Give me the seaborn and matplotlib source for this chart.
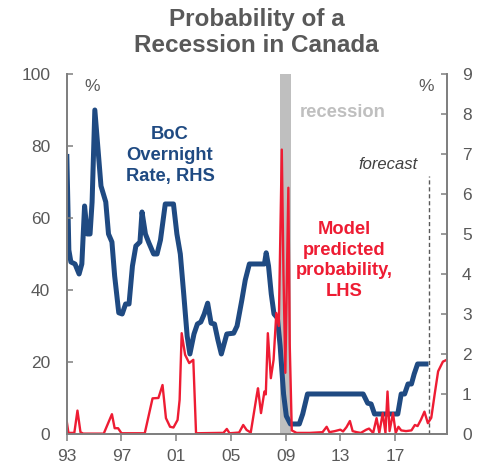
import matplotlib
matplotlib.use("Agg")
import matplotlib.pyplot as plt
import seaborn as sns
import pandas as pd

# ---- data ----
rate_year = [1993.0, 1993.15, 1993.3, 1993.6, 1993.9, 1994.1, 1994.3, 1994.5, 1994.7, 1994.85,
             1995.05, 1995.5, 1995.85, 1996.05, 1996.3, 1996.5, 1996.8, 1997.05, 1997.3, 1997.55,
             1997.8, 1998.05, 1998.35, 1998.5, 1998.75, 1999.0, 1999.35, 1999.6, 1999.85, 2000.2,
             2000.8, 2001.05, 2001.3, 2001.55, 2001.8, 2002.0, 2002.3, 2002.55, 2002.8, 2003.05,
             2003.3, 2003.55, 2003.8, 2004.05, 2004.3, 2004.7, 2005.2, 2005.45, 2005.8, 2006.05,
             2006.35, 2007.45, 2007.58, 2007.75, 2007.95, 2008.15, 2008.4, 2008.6, 2008.85, 2009.05,
             2009.35, 2010.0, 2010.25, 2010.6, 2014.67, 2015.0, 2015.25, 2015.5, 2017.2, 2017.45,
             2017.7, 2017.95, 2018.2, 2018.4, 2018.65, 2019.45]
rate = [7.0, 4.6, 4.3, 4.25, 4.0, 4.25, 5.7, 5.0, 5.0, 5.8,
        8.1, 6.2, 5.8, 5.0, 4.8, 3.95, 3.03, 3.0, 3.25, 3.25,
        4.2, 4.7, 4.8, 5.55, 5.0, 4.78, 4.5, 4.5, 4.85, 5.75,
        5.75, 5.0, 4.5, 3.5, 2.45, 2.0, 2.5, 2.75, 2.8, 3.0,
        3.27, 2.77, 2.75, 2.35, 2.0, 2.5, 2.52, 2.7, 3.35, 3.85,
        4.25, 4.25, 4.53, 4.2, 3.5, 3.0, 2.9, 2.2, 1.0, 0.45,
        0.25, 0.25, 0.5, 1.0, 1.0, 0.77, 0.75, 0.5, 0.5, 1.0,
        1.0, 1.25, 1.25, 1.5, 1.75, 1.75]

prob_year = [1993.0, 1993.12, 1993.55, 1993.78, 1994.0, 1994.2, 1995.7, 1996.3, 1996.5, 1996.75,
             1997.0, 1998.7, 1999.27, 1999.7, 2000.0, 2000.25, 2000.55, 2000.8, 2001.1, 2001.25,
             2001.4, 2001.65, 2001.95, 2002.25, 2002.45, 2004.2, 2004.45, 2004.7, 2004.9, 2005.6,
             2005.9, 2006.15, 2006.45, 2006.9, 2006.98, 2007.2, 2007.45, 2007.55, 2007.7, 2007.92,
             2008.12, 2008.32, 2008.5, 2008.72, 2008.84, 2008.98, 2009.2, 2009.3, 2009.45, 2009.8,
             2010.75, 2011.7, 2012.0, 2012.2, 2012.6, 2013.0, 2013.2, 2013.45, 2013.7, 2013.9,
             2014.2, 2014.5, 2014.9, 2015.1, 2015.4, 2015.65, 2015.85, 2016.1, 2016.3, 2016.45,
             2016.6, 2016.85, 2017.05, 2017.25, 2017.45, 2017.8, 2018.2, 2018.45, 2018.65, 2018.9,
             2019.15, 2019.4, 2019.65, 2019.9, 2020.15, 2020.5, 2020.78]
prob = [3.4, 0.3, 0.3, 6.5, 0.5, 0.1, 0.1, 5.5, 1.6, 1.6,
        0.2, 0.2, 9.9, 10.0, 13.6, 4.4, 2.0, 1.8, 3.9, 9.5,
        28.0, 22.0, 19.7, 20.6, 0.2, 0.3, 0.3, 1.4, 0.2, 0.4,
        2.5, 1.1, 0.4, 11.0, 12.7, 5.8, 11.8, 11.0, 28.0, 15.5,
        20.6, 33.6, 30.0, 79.0, 45.0, 17.0, 68.4, 25.0, 1.0, 0.3,
        0.3, 0.5, 2.0, 0.5, 0.8, 1.2, 0.7, 1.9, 3.6, 0.8,
        0.5, 0.3, 1.2, 1.5, 0.3, 4.4, 0.3, 5.8, 0.3, 11.8,
        0.8, 5.8, 0.3, 2.0, 1.0, 0.8, 1.0, 2.5, 2.2, 4.0,
        6.2, 3.0, 4.5, 11.1, 17.4, 20.1, 20.6]

xtick_years = [1993, 1997, 2001, 2005, 2009, 2013, 2017]
xtick_labels = ["93", "97", "01", "05", "09", "13", "17"]
left_ticks = [0, 20, 40, 60, 80, 100]
right_ticks = list(range(0, 10))
recession = (2008.57, 2009.42)
forecast_year = 2019.45

BLUE = "#1f4a82"
RED = "#ee1c33"
GREY = "#595959"
SPINE = "#7f7f7f"

sns.set_theme(style="white")
plt.rcParams["font.family"] = ["Liberation Sans", "DejaVu Sans"]

fig = plt.figure(figsize=(4.84, 4.65), dpi=100)
ax = fig.add_axes([0.138, 0.0667, 0.785, 0.7742])  # primary: BoC rate (RHS)
ax2 = ax.twinx()  # probability (LHS), drawn on top

rate_df = pd.DataFrame({"year": rate_year, "rate": rate})
prob_df = pd.DataFrame({"year": prob_year, "prob": prob})

ax.axvspan(recession[0], recession[1], color="#bfbfbf", lw=0, zorder=0)
sns.lineplot(data=rate_df, x="year", y="rate", ax=ax, color=BLUE, lw=3.6,
             sort=False, estimator=None, solid_joinstyle="round", solid_capstyle="butt")
sns.lineplot(data=prob_df, x="year", y="prob", ax=ax2, color=RED, lw=1.7,
             sort=False, estimator=None)

ax.set_xlim(1993, 2020.78)
ax.set_ylim(0, 9)
ax2.set_ylim(0, 100)
ax.set_xlabel("")
ax.set_ylabel("")
ax2.set_ylabel("")

# axis positions: rate on right, probability on left
ax.yaxis.tick_right()
ax2.yaxis.tick_left()
ax.set_yticks(right_ticks)
ax2.set_yticks(left_ticks)
ax.set_xticks(xtick_years)
ax.set_xticklabels(xtick_labels)

for a in (ax, ax2):
    a.spines["top"].set_visible(False)
    for s in ("left", "right", "bottom"):
        a.spines[s].set_color(SPINE)
        a.spines[s].set_linewidth(1.3)

ax.tick_params(axis="y", which="major", direction="in", length=4, width=1.1, color=SPINE,
               labelsize=12.5, labelcolor=GREY, pad=11, right=True, left=False,
               labelright=True, labelleft=False)
ax2.tick_params(axis="y", which="major", direction="in", length=4, width=1.1, color=SPINE,
                labelsize=12.5, labelcolor=GREY, pad=12, left=True, right=False,
                labelleft=True, labelright=False)
ax.tick_params(axis="x", which="major", direction="out", length=5, width=1.1, color=SPINE,
               labelsize=12.5, labelcolor=GREY, pad=6, bottom=True)

# forecast line
ax2.plot([forecast_year, forecast_year], [0, 71.6], color=GREY, lw=1.0, ls=(0, (3, 2)), zorder=1)

# annotations
ax2.text(1994.85, 96.4, "%", color=GREY, fontsize=12.5, ha="center", va="center")
ax2.text(2019.3, 96.4, "%", color=GREY, fontsize=12.5, ha="center", va="center")
ax2.text(2000.55, 77.4, "BoC\nOvernight\nRate, RHS", color=BLUE, fontsize=13.2,
         fontweight="bold", ha="center", va="center", linespacing=1.3)
ax2.text(2013.3, 48.2, "Model\npredicted\nprobability,\nLHS", color=RED, fontsize=13.2,
         fontweight="bold", ha="center", va="center", linespacing=1.3)
ax2.text(2010.03, 89.4, "recession", color="#bfbfbf", fontsize=13.2, fontweight="bold",
         ha="left", va="center")
ax2.text(2018.65, 74.9, "forecast", color="#404040", fontsize=12, style="italic",
         ha="right", va="center")

fig.text(256.5 / 484, 1 - 32.5 / 465, "Probability of a\nRecession in Canada", color=GREY,
         fontsize=17.5, fontweight="bold", ha="center", va="center", linespacing=1.2)

fig.savefig("out.png", dpi=100)
